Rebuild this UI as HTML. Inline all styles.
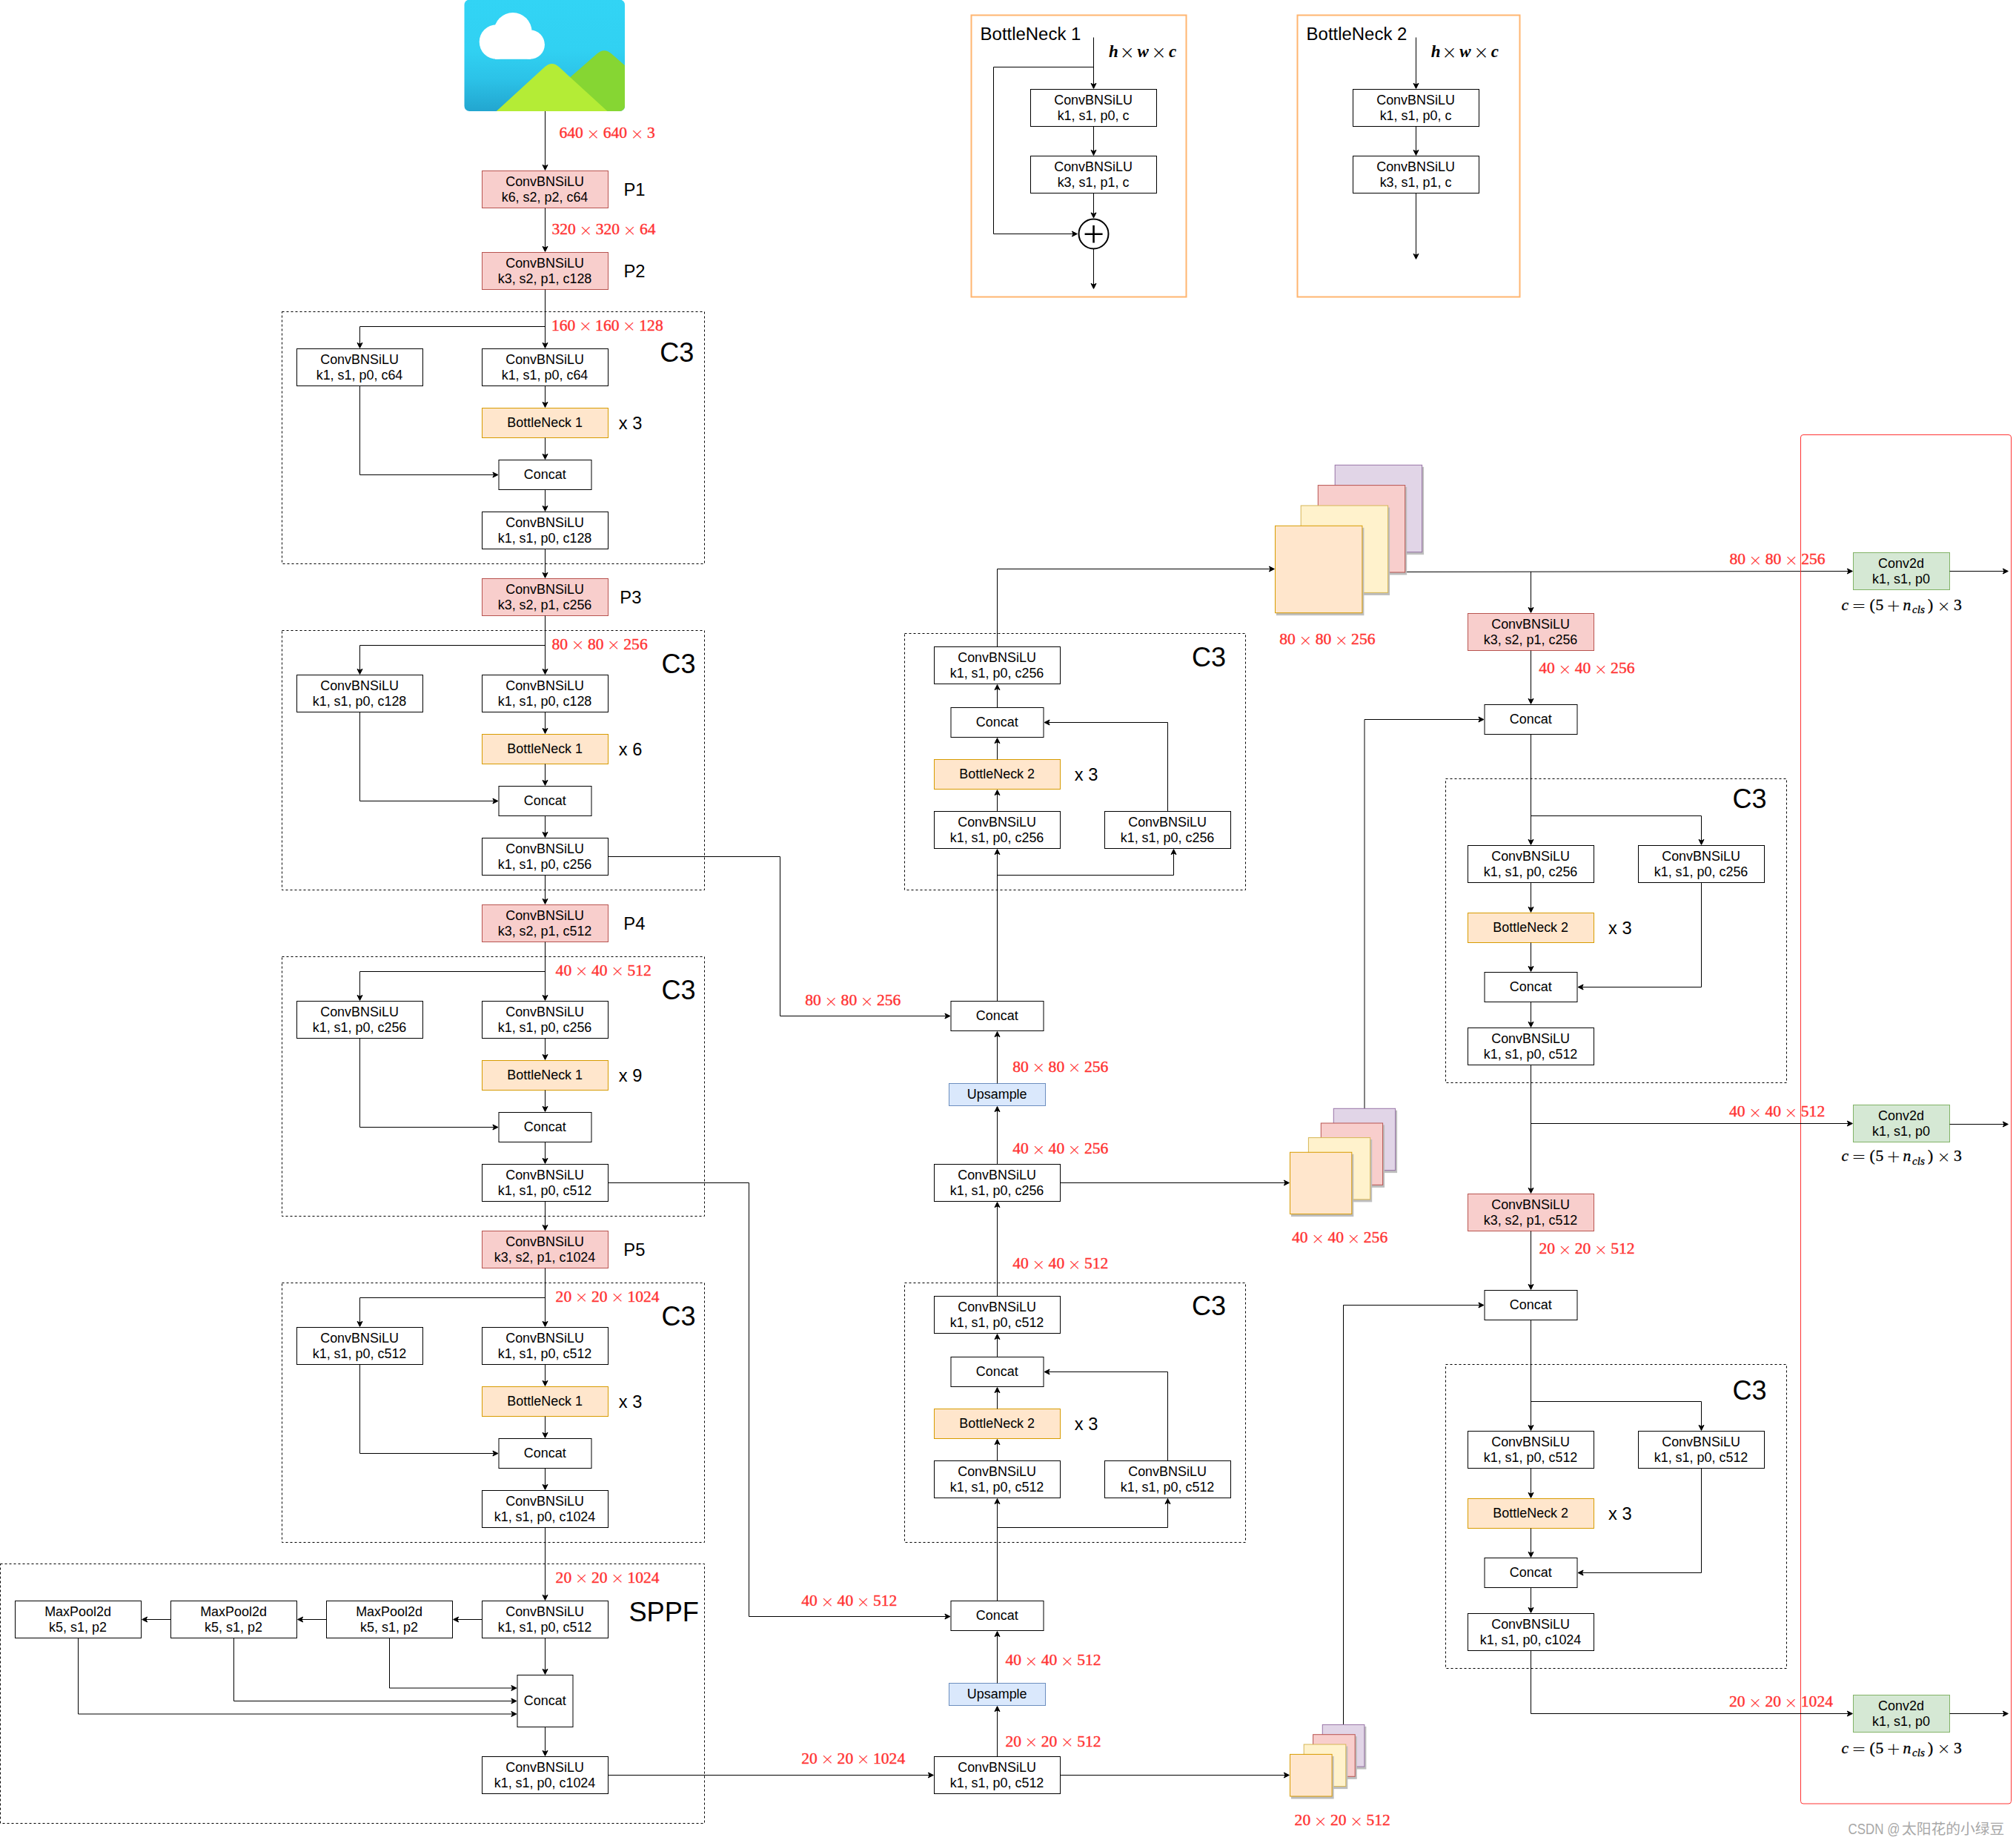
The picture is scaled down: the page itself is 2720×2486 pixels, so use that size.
<!DOCTYPE html>
<html lang="en"><head><meta charset="utf-8"><title>YOLOv5 architecture</title>
<style>html,body{margin:0;padding:0;background:#fff}svg{display:block;font-family:'Liberation Sans', Arial, Helvetica, sans-serif}</style>
</head><body>
<svg width="2720" height="2486" viewBox="0 0 2720 2486">
<defs><linearGradient id="sky" x1="0" y1="0" x2="0" y2="1"><stop offset="0" stop-color="#32d4f5"/><stop offset="0.45" stop-color="#31d1f2"/><stop offset="0.7" stop-color="#2cc3e8"/><stop offset="1" stop-color="#22a5cf"/></linearGradient><clipPath id="imgclip"><rect x="626.5" y="-0.5" width="216.5" height="150.5" rx="7" ry="7"/></clipPath></defs>
<rect x="0" y="0" width="2720" height="2486" fill="#fff"/>
<g clip-path="url(#imgclip)">
<rect x="626" y="-1" width="218" height="152" fill="url(#sky)"/>
<g fill="#fff"><circle cx="692" cy="42.5" r="25.5"/><circle cx="670" cy="56.5" r="23.3"/><circle cx="715.3" cy="60.2" r="19.6"/><rect x="668" y="60" width="48" height="19.8"/></g>
<path d="M750 121L805.5 72.5Q815.3 64 825 72.5L850 94.5V152H750Z" fill="#86d633"/>
<path d="M668.1 151.5L735 90.3Q744.6 81.5 754.2 90.3L821.1 151.5Z" fill="#b4ec36"/>
</g>
<path d="M735.5 229.38L732 222.38L735.5 224.13L739 222.38Z" fill="#000" stroke="#000" stroke-width="1" stroke-miterlimit="10"/>
<path d="M735.5 150L735.5 224.13" fill="none" stroke="#000" stroke-width="1" stroke-miterlimit="10"/>
<text font-family='"Liberation Serif", "DejaVu Serif", serif' font-size="21.6" fill="#ff3333" stroke="#ff3333" stroke-width="0.4" xml:space="preserve"><tspan x="754.5" y="186.2">640 </tspan><tspan x="791.25" y="187.8" font-family='"DejaVu Sans", sans-serif' font-weight="200" stroke="none" font-size="21.8">× </tspan><tspan x="813.7" y="186.2">640 </tspan><tspan x="850.45" y="187.8" font-family='"DejaVu Sans", sans-serif' font-weight="200" stroke="none" font-size="21.8">× </tspan><tspan x="872.9" y="186.2">3 </tspan></text>
<rect x="650.5" y="230.5" width="170" height="50" fill="#f8cecc" stroke="#b85450" stroke-width="1" />
<text transform="translate(735,250.9) scale(1.0,1)" font-size="17.95" text-anchor="middle" fill="#000" >ConvBNSiLU</text>
<text transform="translate(735,271.7) scale(1.0,1)" font-size="17.95" text-anchor="middle" fill="#000" >k6, s2, p2, c64</text>
<text transform="translate(841.5,263.8) scale(1.0,1)" font-size="23.8" text-anchor="start" fill="#000" >P1</text>
<path d="M735.5 339.38L732 332.38L735.5 334.13L739 332.38Z" fill="#000" stroke="#000" stroke-width="1" stroke-miterlimit="10"/>
<path d="M735.5 280.5L735.5 334.13" fill="none" stroke="#000" stroke-width="1" stroke-miterlimit="10"/>
<text font-family='"Liberation Serif", "DejaVu Serif", serif' font-size="21.6" fill="#ff3333" stroke="#ff3333" stroke-width="0.4" xml:space="preserve"><tspan x="744.5" y="316.2">320 </tspan><tspan x="781.25" y="317.8" font-family='"DejaVu Sans", sans-serif' font-weight="200" stroke="none" font-size="21.8">× </tspan><tspan x="803.7" y="316.2">320 </tspan><tspan x="840.45" y="317.8" font-family='"DejaVu Sans", sans-serif' font-weight="200" stroke="none" font-size="21.8">× </tspan><tspan x="862.9" y="316.2">64 </tspan></text>
<rect x="650.5" y="340.5" width="170" height="50" fill="#f8cecc" stroke="#b85450" stroke-width="1" />
<text transform="translate(735,360.9) scale(1.0,1)" font-size="17.95" text-anchor="middle" fill="#000" >ConvBNSiLU</text>
<text transform="translate(735,381.7) scale(1.0,1)" font-size="17.95" text-anchor="middle" fill="#000" >k3, s2, p1, c128</text>
<text transform="translate(841.5,373.8) scale(1.0,1)" font-size="23.8" text-anchor="start" fill="#000" >P2</text>
<rect x="380.5" y="420.5" width="570" height="340" fill="none" stroke="#000" stroke-width="1" stroke-dasharray="3 3"/>
<path d="M735.5 469.38L732 462.38L735.5 464.13L739 462.38Z" fill="#000" stroke="#000" stroke-width="1" stroke-miterlimit="10"/>
<path d="M735.5 390.5L735.5 464.13" fill="none" stroke="#000" stroke-width="1" stroke-miterlimit="10"/>
<path d="M485.5 469.38L482 462.38L485.5 464.13L489 462.38Z" fill="#000" stroke="#000" stroke-width="1" stroke-miterlimit="10"/>
<path d="M735.5 440.5L485.5 440.5L485.5 464.13" fill="none" stroke="#000" stroke-width="1" stroke-miterlimit="10"/>
<text font-family='"Liberation Serif", "DejaVu Serif", serif' font-size="21.6" fill="#ff3333" stroke="#ff3333" stroke-width="0.4" xml:space="preserve"><tspan x="743.9" y="445.8">160 </tspan><tspan x="780.65" y="447.4" font-family='"DejaVu Sans", sans-serif' font-weight="200" stroke="none" font-size="21.8">× </tspan><tspan x="803.1" y="445.8">160 </tspan><tspan x="839.85" y="447.4" font-family='"DejaVu Sans", sans-serif' font-weight="200" stroke="none" font-size="21.8">× </tspan><tspan x="862.3" y="445.8">128 </tspan></text>
<text transform="translate(890.2,487.7) scale(0.99,1)" font-size="36.4" text-anchor="start" fill="#000" >C3</text>
<rect x="400.5" y="470.5" width="170" height="50" fill="#fff" stroke="#000" stroke-width="1" />
<text transform="translate(485,490.9) scale(1.0,1)" font-size="17.95" text-anchor="middle" fill="#000" >ConvBNSiLU</text>
<text transform="translate(485,511.7) scale(1.0,1)" font-size="17.95" text-anchor="middle" fill="#000" >k1, s1, p0, c64</text>
<rect x="650.5" y="470.5" width="170" height="50" fill="#fff" stroke="#000" stroke-width="1" />
<text transform="translate(735,490.9) scale(1.0,1)" font-size="17.95" text-anchor="middle" fill="#000" >ConvBNSiLU</text>
<text transform="translate(735,511.7) scale(1.0,1)" font-size="17.95" text-anchor="middle" fill="#000" >k1, s1, p0, c64</text>
<path d="M735.5 549.38L732 542.38L735.5 544.13L739 542.38Z" fill="#000" stroke="#000" stroke-width="1" stroke-miterlimit="10"/>
<path d="M735.5 520.5L735.5 544.13" fill="none" stroke="#000" stroke-width="1" stroke-miterlimit="10"/>
<rect x="650.5" y="550.5" width="170" height="40" fill="#ffe6cc" stroke="#d79b00" stroke-width="1" />
<text transform="translate(735.2,576.3) scale(1.0,1)" font-size="17.95" text-anchor="middle" fill="#000" >BottleNeck 1</text>
<text transform="translate(834.8,578.6) scale(0.965,1)" font-size="24.5" text-anchor="start" fill="#000" >x 3</text>
<path d="M735.5 619.38L732 612.38L735.5 614.13L739 612.38Z" fill="#000" stroke="#000" stroke-width="1" stroke-miterlimit="10"/>
<path d="M735.5 590.5L735.5 614.13" fill="none" stroke="#000" stroke-width="1" stroke-miterlimit="10"/>
<rect x="673" y="620.5" width="125" height="40" fill="#fff" stroke="#000" stroke-width="1" />
<text transform="translate(735.2,646.3) scale(1.0,1)" font-size="17.95" text-anchor="middle" fill="#000" >Concat</text>
<path d="M671.88 640.5L664.88 644L666.63 640.5L664.88 637Z" fill="#000" stroke="#000" stroke-width="1" stroke-miterlimit="10"/>
<path d="M485.5 520.5L485.5 640.5L666.63 640.5" fill="none" stroke="#000" stroke-width="1" stroke-miterlimit="10"/>
<path d="M735.5 689.38L732 682.38L735.5 684.13L739 682.38Z" fill="#000" stroke="#000" stroke-width="1" stroke-miterlimit="10"/>
<path d="M735.5 660.5L735.5 684.13" fill="none" stroke="#000" stroke-width="1" stroke-miterlimit="10"/>
<rect x="650.5" y="690.5" width="170" height="50" fill="#fff" stroke="#000" stroke-width="1" />
<text transform="translate(735,710.9) scale(1.0,1)" font-size="17.95" text-anchor="middle" fill="#000" >ConvBNSiLU</text>
<text transform="translate(735,731.7) scale(1.0,1)" font-size="17.95" text-anchor="middle" fill="#000" >k1, s1, p0, c128</text>
<path d="M735.5 779.38L732 772.38L735.5 774.13L739 772.38Z" fill="#000" stroke="#000" stroke-width="1" stroke-miterlimit="10"/>
<path d="M735.5 740.5L735.5 774.13" fill="none" stroke="#000" stroke-width="1" stroke-miterlimit="10"/>
<rect x="650.5" y="780.5" width="170" height="50" fill="#f8cecc" stroke="#b85450" stroke-width="1" />
<text transform="translate(735,800.9) scale(1.0,1)" font-size="17.95" text-anchor="middle" fill="#000" >ConvBNSiLU</text>
<text transform="translate(735,821.7) scale(1.0,1)" font-size="17.95" text-anchor="middle" fill="#000" >k3, s2, p1, c256</text>
<text transform="translate(836.3,813.8) scale(1.0,1)" font-size="23.8" text-anchor="start" fill="#000" >P3</text>
<rect x="380.5" y="850.5" width="570" height="350" fill="none" stroke="#000" stroke-width="1" stroke-dasharray="3 3"/>
<path d="M735.5 909.38L732 902.38L735.5 904.13L739 902.38Z" fill="#000" stroke="#000" stroke-width="1" stroke-miterlimit="10"/>
<path d="M735.5 830.5L735.5 904.13" fill="none" stroke="#000" stroke-width="1" stroke-miterlimit="10"/>
<path d="M485.5 909.38L482 902.38L485.5 904.13L489 902.38Z" fill="#000" stroke="#000" stroke-width="1" stroke-miterlimit="10"/>
<path d="M735.5 870.5L485.5 870.5L485.5 904.13" fill="none" stroke="#000" stroke-width="1" stroke-miterlimit="10"/>
<text font-family='"Liberation Serif", "DejaVu Serif", serif' font-size="21.6" fill="#ff3333" stroke="#ff3333" stroke-width="0.4" xml:space="preserve"><tspan x="744.5" y="875.8">80 </tspan><tspan x="770.45" y="877.4" font-family='"DejaVu Sans", sans-serif' font-weight="200" stroke="none" font-size="21.8">× </tspan><tspan x="792.9" y="875.8">80 </tspan><tspan x="818.85" y="877.4" font-family='"DejaVu Sans", sans-serif' font-weight="200" stroke="none" font-size="21.8">× </tspan><tspan x="841.3" y="875.8">256 </tspan></text>
<text transform="translate(892.5,907.7) scale(0.99,1)" font-size="36.4" text-anchor="start" fill="#000" >C3</text>
<rect x="400.5" y="910.5" width="170" height="50" fill="#fff" stroke="#000" stroke-width="1" />
<text transform="translate(485,930.9) scale(1.0,1)" font-size="17.95" text-anchor="middle" fill="#000" >ConvBNSiLU</text>
<text transform="translate(485,951.7) scale(1.0,1)" font-size="17.95" text-anchor="middle" fill="#000" >k1, s1, p0, c128</text>
<rect x="650.5" y="910.5" width="170" height="50" fill="#fff" stroke="#000" stroke-width="1" />
<text transform="translate(735,930.9) scale(1.0,1)" font-size="17.95" text-anchor="middle" fill="#000" >ConvBNSiLU</text>
<text transform="translate(735,951.7) scale(1.0,1)" font-size="17.95" text-anchor="middle" fill="#000" >k1, s1, p0, c128</text>
<path d="M735.5 989.38L732 982.38L735.5 984.13L739 982.38Z" fill="#000" stroke="#000" stroke-width="1" stroke-miterlimit="10"/>
<path d="M735.5 960.5L735.5 984.13" fill="none" stroke="#000" stroke-width="1" stroke-miterlimit="10"/>
<rect x="650.5" y="990.5" width="170" height="40" fill="#ffe6cc" stroke="#d79b00" stroke-width="1" />
<text transform="translate(735.2,1016.3) scale(1.0,1)" font-size="17.95" text-anchor="middle" fill="#000" >BottleNeck 1</text>
<text transform="translate(834.8,1018.6) scale(0.965,1)" font-size="24.5" text-anchor="start" fill="#000" >x 6</text>
<path d="M735.5 1059.38L732 1052.38L735.5 1054.13L739 1052.38Z" fill="#000" stroke="#000" stroke-width="1" stroke-miterlimit="10"/>
<path d="M735.5 1030.5L735.5 1054.13" fill="none" stroke="#000" stroke-width="1" stroke-miterlimit="10"/>
<rect x="673" y="1060.5" width="125" height="40" fill="#fff" stroke="#000" stroke-width="1" />
<text transform="translate(735.2,1086.3) scale(1.0,1)" font-size="17.95" text-anchor="middle" fill="#000" >Concat</text>
<path d="M671.88 1080.5L664.88 1084L666.63 1080.5L664.88 1077Z" fill="#000" stroke="#000" stroke-width="1" stroke-miterlimit="10"/>
<path d="M485.5 960.5L485.5 1080.5L666.63 1080.5" fill="none" stroke="#000" stroke-width="1" stroke-miterlimit="10"/>
<path d="M735.5 1129.38L732 1122.38L735.5 1124.13L739 1122.38Z" fill="#000" stroke="#000" stroke-width="1" stroke-miterlimit="10"/>
<path d="M735.5 1100.5L735.5 1124.13" fill="none" stroke="#000" stroke-width="1" stroke-miterlimit="10"/>
<rect x="650.5" y="1130.5" width="170" height="50" fill="#fff" stroke="#000" stroke-width="1" />
<text transform="translate(735,1150.9) scale(1.0,1)" font-size="17.95" text-anchor="middle" fill="#000" >ConvBNSiLU</text>
<text transform="translate(735,1171.7) scale(1.0,1)" font-size="17.95" text-anchor="middle" fill="#000" >k1, s1, p0, c256</text>
<path d="M735.5 1219.38L732 1212.38L735.5 1214.13L739 1212.38Z" fill="#000" stroke="#000" stroke-width="1" stroke-miterlimit="10"/>
<path d="M735.5 1180.5L735.5 1214.13" fill="none" stroke="#000" stroke-width="1" stroke-miterlimit="10"/>
<rect x="650.5" y="1220.5" width="170" height="50" fill="#f8cecc" stroke="#b85450" stroke-width="1" />
<text transform="translate(735,1240.9) scale(1.0,1)" font-size="17.95" text-anchor="middle" fill="#000" >ConvBNSiLU</text>
<text transform="translate(735,1261.7) scale(1.0,1)" font-size="17.95" text-anchor="middle" fill="#000" >k3, s2, p1, c512</text>
<text transform="translate(841.3,1253.8) scale(1.0,1)" font-size="23.8" text-anchor="start" fill="#000" >P4</text>
<rect x="380.5" y="1290.5" width="570" height="350" fill="none" stroke="#000" stroke-width="1" stroke-dasharray="3 3"/>
<path d="M735.5 1349.38L732 1342.38L735.5 1344.13L739 1342.38Z" fill="#000" stroke="#000" stroke-width="1" stroke-miterlimit="10"/>
<path d="M735.5 1270.5L735.5 1344.13" fill="none" stroke="#000" stroke-width="1" stroke-miterlimit="10"/>
<path d="M485.5 1349.38L482 1342.38L485.5 1344.13L489 1342.38Z" fill="#000" stroke="#000" stroke-width="1" stroke-miterlimit="10"/>
<path d="M735.5 1310.5L485.5 1310.5L485.5 1344.13" fill="none" stroke="#000" stroke-width="1" stroke-miterlimit="10"/>
<text font-family='"Liberation Serif", "DejaVu Serif", serif' font-size="21.6" fill="#ff3333" stroke="#ff3333" stroke-width="0.4" xml:space="preserve"><tspan x="749.6" y="1315.8">40 </tspan><tspan x="775.55" y="1317.4" font-family='"DejaVu Sans", sans-serif' font-weight="200" stroke="none" font-size="21.8">× </tspan><tspan x="798" y="1315.8">40 </tspan><tspan x="823.95" y="1317.4" font-family='"DejaVu Sans", sans-serif' font-weight="200" stroke="none" font-size="21.8">× </tspan><tspan x="846.4" y="1315.8">512 </tspan></text>
<text transform="translate(892.5,1347.7) scale(0.99,1)" font-size="36.4" text-anchor="start" fill="#000" >C3</text>
<rect x="400.5" y="1350.5" width="170" height="50" fill="#fff" stroke="#000" stroke-width="1" />
<text transform="translate(485,1370.9) scale(1.0,1)" font-size="17.95" text-anchor="middle" fill="#000" >ConvBNSiLU</text>
<text transform="translate(485,1391.7) scale(1.0,1)" font-size="17.95" text-anchor="middle" fill="#000" >k1, s1, p0, c256</text>
<rect x="650.5" y="1350.5" width="170" height="50" fill="#fff" stroke="#000" stroke-width="1" />
<text transform="translate(735,1370.9) scale(1.0,1)" font-size="17.95" text-anchor="middle" fill="#000" >ConvBNSiLU</text>
<text transform="translate(735,1391.7) scale(1.0,1)" font-size="17.95" text-anchor="middle" fill="#000" >k1, s1, p0, c256</text>
<path d="M735.5 1429.38L732 1422.38L735.5 1424.13L739 1422.38Z" fill="#000" stroke="#000" stroke-width="1" stroke-miterlimit="10"/>
<path d="M735.5 1400.5L735.5 1424.13" fill="none" stroke="#000" stroke-width="1" stroke-miterlimit="10"/>
<rect x="650.5" y="1430.5" width="170" height="40" fill="#ffe6cc" stroke="#d79b00" stroke-width="1" />
<text transform="translate(735.2,1456.3) scale(1.0,1)" font-size="17.95" text-anchor="middle" fill="#000" >BottleNeck 1</text>
<text transform="translate(834.8,1458.6) scale(0.965,1)" font-size="24.5" text-anchor="start" fill="#000" >x 9</text>
<path d="M735.5 1499.38L732 1492.38L735.5 1494.13L739 1492.38Z" fill="#000" stroke="#000" stroke-width="1" stroke-miterlimit="10"/>
<path d="M735.5 1470.5L735.5 1494.13" fill="none" stroke="#000" stroke-width="1" stroke-miterlimit="10"/>
<rect x="673" y="1500.5" width="125" height="40" fill="#fff" stroke="#000" stroke-width="1" />
<text transform="translate(735.2,1526.3) scale(1.0,1)" font-size="17.95" text-anchor="middle" fill="#000" >Concat</text>
<path d="M671.88 1520.5L664.88 1524L666.63 1520.5L664.88 1517Z" fill="#000" stroke="#000" stroke-width="1" stroke-miterlimit="10"/>
<path d="M485.5 1400.5L485.5 1520.5L666.63 1520.5" fill="none" stroke="#000" stroke-width="1" stroke-miterlimit="10"/>
<path d="M735.5 1569.38L732 1562.38L735.5 1564.13L739 1562.38Z" fill="#000" stroke="#000" stroke-width="1" stroke-miterlimit="10"/>
<path d="M735.5 1540.5L735.5 1564.13" fill="none" stroke="#000" stroke-width="1" stroke-miterlimit="10"/>
<rect x="650.5" y="1570.5" width="170" height="50" fill="#fff" stroke="#000" stroke-width="1" />
<text transform="translate(735,1590.9) scale(1.0,1)" font-size="17.95" text-anchor="middle" fill="#000" >ConvBNSiLU</text>
<text transform="translate(735,1611.7) scale(1.0,1)" font-size="17.95" text-anchor="middle" fill="#000" >k1, s1, p0, c512</text>
<path d="M735.5 1659.38L732 1652.38L735.5 1654.13L739 1652.38Z" fill="#000" stroke="#000" stroke-width="1" stroke-miterlimit="10"/>
<path d="M735.5 1620.5L735.5 1654.13" fill="none" stroke="#000" stroke-width="1" stroke-miterlimit="10"/>
<rect x="650.5" y="1660.5" width="170" height="50" fill="#f8cecc" stroke="#b85450" stroke-width="1" />
<text transform="translate(735,1680.9) scale(1.0,1)" font-size="17.95" text-anchor="middle" fill="#000" >ConvBNSiLU</text>
<text transform="translate(735,1701.7) scale(1.0,1)" font-size="17.95" text-anchor="middle" fill="#000" >k3, s2, p1, c1024</text>
<text transform="translate(841.3,1693.8) scale(1.0,1)" font-size="23.8" text-anchor="start" fill="#000" >P5</text>
<rect x="380.5" y="1730.5" width="570" height="350" fill="none" stroke="#000" stroke-width="1" stroke-dasharray="3 3"/>
<path d="M735.5 1789.38L732 1782.38L735.5 1784.13L739 1782.38Z" fill="#000" stroke="#000" stroke-width="1" stroke-miterlimit="10"/>
<path d="M735.5 1710.5L735.5 1784.13" fill="none" stroke="#000" stroke-width="1" stroke-miterlimit="10"/>
<path d="M485.5 1789.38L482 1782.38L485.5 1784.13L489 1782.38Z" fill="#000" stroke="#000" stroke-width="1" stroke-miterlimit="10"/>
<path d="M735.5 1750.5L485.5 1750.5L485.5 1784.13" fill="none" stroke="#000" stroke-width="1" stroke-miterlimit="10"/>
<text font-family='"Liberation Serif", "DejaVu Serif", serif' font-size="21.6" fill="#ff3333" stroke="#ff3333" stroke-width="0.4" xml:space="preserve"><tspan x="749.6" y="1755.8">20 </tspan><tspan x="775.55" y="1757.4" font-family='"DejaVu Sans", sans-serif' font-weight="200" stroke="none" font-size="21.8">× </tspan><tspan x="798" y="1755.8">20 </tspan><tspan x="823.95" y="1757.4" font-family='"DejaVu Sans", sans-serif' font-weight="200" stroke="none" font-size="21.8">× </tspan><tspan x="846.4" y="1755.8">1024 </tspan></text>
<text transform="translate(892.5,1787.7) scale(0.99,1)" font-size="36.4" text-anchor="start" fill="#000" >C3</text>
<rect x="400.5" y="1790.5" width="170" height="50" fill="#fff" stroke="#000" stroke-width="1" />
<text transform="translate(485,1810.9) scale(1.0,1)" font-size="17.95" text-anchor="middle" fill="#000" >ConvBNSiLU</text>
<text transform="translate(485,1831.7) scale(1.0,1)" font-size="17.95" text-anchor="middle" fill="#000" >k1, s1, p0, c512</text>
<rect x="650.5" y="1790.5" width="170" height="50" fill="#fff" stroke="#000" stroke-width="1" />
<text transform="translate(735,1810.9) scale(1.0,1)" font-size="17.95" text-anchor="middle" fill="#000" >ConvBNSiLU</text>
<text transform="translate(735,1831.7) scale(1.0,1)" font-size="17.95" text-anchor="middle" fill="#000" >k1, s1, p0, c512</text>
<path d="M735.5 1869.38L732 1862.38L735.5 1864.13L739 1862.38Z" fill="#000" stroke="#000" stroke-width="1" stroke-miterlimit="10"/>
<path d="M735.5 1840.5L735.5 1864.13" fill="none" stroke="#000" stroke-width="1" stroke-miterlimit="10"/>
<rect x="650.5" y="1870.5" width="170" height="40" fill="#ffe6cc" stroke="#d79b00" stroke-width="1" />
<text transform="translate(735.2,1896.3) scale(1.0,1)" font-size="17.95" text-anchor="middle" fill="#000" >BottleNeck 1</text>
<text transform="translate(834.8,1898.6) scale(0.965,1)" font-size="24.5" text-anchor="start" fill="#000" >x 3</text>
<path d="M735.5 1939.38L732 1932.38L735.5 1934.13L739 1932.38Z" fill="#000" stroke="#000" stroke-width="1" stroke-miterlimit="10"/>
<path d="M735.5 1910.5L735.5 1934.13" fill="none" stroke="#000" stroke-width="1" stroke-miterlimit="10"/>
<rect x="673" y="1940.5" width="125" height="40" fill="#fff" stroke="#000" stroke-width="1" />
<text transform="translate(735.2,1966.3) scale(1.0,1)" font-size="17.95" text-anchor="middle" fill="#000" >Concat</text>
<path d="M671.88 1960.5L664.88 1964L666.63 1960.5L664.88 1957Z" fill="#000" stroke="#000" stroke-width="1" stroke-miterlimit="10"/>
<path d="M485.5 1840.5L485.5 1960.5L666.63 1960.5" fill="none" stroke="#000" stroke-width="1" stroke-miterlimit="10"/>
<path d="M735.5 2009.38L732 2002.38L735.5 2004.13L739 2002.38Z" fill="#000" stroke="#000" stroke-width="1" stroke-miterlimit="10"/>
<path d="M735.5 1980.5L735.5 2004.13" fill="none" stroke="#000" stroke-width="1" stroke-miterlimit="10"/>
<rect x="650.5" y="2010.5" width="170" height="50" fill="#fff" stroke="#000" stroke-width="1" />
<text transform="translate(735,2030.9) scale(1.0,1)" font-size="17.95" text-anchor="middle" fill="#000" >ConvBNSiLU</text>
<text transform="translate(735,2051.7) scale(1.0,1)" font-size="17.95" text-anchor="middle" fill="#000" >k1, s1, p0, c1024</text>
<path d="M1281.88 1370.5L1274.88 1374L1276.63 1370.5L1274.88 1367Z" fill="#000" stroke="#000" stroke-width="1" stroke-miterlimit="10"/>
<path d="M820.5 1155.5L1052.5 1155.5L1052.5 1370.5L1276.63 1370.5" fill="none" stroke="#000" stroke-width="1" stroke-miterlimit="10"/>
<path d="M1281.88 2180.5L1274.88 2184L1276.63 2180.5L1274.88 2177Z" fill="#000" stroke="#000" stroke-width="1" stroke-miterlimit="10"/>
<path d="M820.5 1595.5L1010.5 1595.5L1010.5 2180.5L1276.63 2180.5" fill="none" stroke="#000" stroke-width="1" stroke-miterlimit="10"/>
<rect x="0.5" y="2109.5" width="950" height="350" fill="none" stroke="#000" stroke-width="1" stroke-dasharray="3 3"/>
<path d="M735.5 2158.38L732 2151.38L735.5 2153.13L739 2151.38Z" fill="#000" stroke="#000" stroke-width="1" stroke-miterlimit="10"/>
<path d="M735.5 2060.5L735.5 2153.13" fill="none" stroke="#000" stroke-width="1" stroke-miterlimit="10"/>
<text font-family='"Liberation Serif", "DejaVu Serif", serif' font-size="21.6" fill="#ff3333" stroke="#ff3333" stroke-width="0.4" xml:space="preserve"><tspan x="749.6" y="2134.6">20 </tspan><tspan x="775.55" y="2136.2" font-family='"DejaVu Sans", sans-serif' font-weight="200" stroke="none" font-size="21.8">× </tspan><tspan x="798" y="2134.6">20 </tspan><tspan x="823.95" y="2136.2" font-family='"DejaVu Sans", sans-serif' font-weight="200" stroke="none" font-size="21.8">× </tspan><tspan x="846.4" y="2134.6">1024 </tspan></text>
<text transform="translate(848.4,2187.2) scale(0.987,1)" font-size="36.7" text-anchor="start" fill="#000" >SPPF</text>
<rect x="650.5" y="2159.5" width="170" height="50" fill="#fff" stroke="#000" stroke-width="1" />
<text transform="translate(735,2179.9) scale(1.0,1)" font-size="17.95" text-anchor="middle" fill="#000" >ConvBNSiLU</text>
<text transform="translate(735,2200.7) scale(1.0,1)" font-size="17.95" text-anchor="middle" fill="#000" >k1, s1, p0, c512</text>
<rect x="440.5" y="2159.5" width="170" height="50" fill="#fff" stroke="#000" stroke-width="1" />
<text transform="translate(525,2179.9) scale(1.0,1)" font-size="17.95" text-anchor="middle" fill="#000" >MaxPool2d</text>
<text transform="translate(525,2200.7) scale(1.0,1)" font-size="17.95" text-anchor="middle" fill="#000" >k5, s1, p2</text>
<path d="M611.62 2184.5L618.62 2181L616.87 2184.5L618.62 2188Z" fill="#000" stroke="#000" stroke-width="1" stroke-miterlimit="10"/>
<path d="M650.5 2184.5L616.87 2184.5" fill="none" stroke="#000" stroke-width="1" stroke-miterlimit="10"/>
<rect x="230.5" y="2159.5" width="170" height="50" fill="#fff" stroke="#000" stroke-width="1" />
<text transform="translate(315,2179.9) scale(1.0,1)" font-size="17.95" text-anchor="middle" fill="#000" >MaxPool2d</text>
<text transform="translate(315,2200.7) scale(1.0,1)" font-size="17.95" text-anchor="middle" fill="#000" >k5, s1, p2</text>
<path d="M401.62 2184.5L408.62 2181L406.87 2184.5L408.62 2188Z" fill="#000" stroke="#000" stroke-width="1" stroke-miterlimit="10"/>
<path d="M440.5 2184.5L406.87 2184.5" fill="none" stroke="#000" stroke-width="1" stroke-miterlimit="10"/>
<rect x="20.5" y="2159.5" width="170" height="50" fill="#fff" stroke="#000" stroke-width="1" />
<text transform="translate(105,2179.9) scale(1.0,1)" font-size="17.95" text-anchor="middle" fill="#000" >MaxPool2d</text>
<text transform="translate(105,2200.7) scale(1.0,1)" font-size="17.95" text-anchor="middle" fill="#000" >k5, s1, p2</text>
<path d="M191.62 2184.5L198.62 2181L196.87 2184.5L198.62 2188Z" fill="#000" stroke="#000" stroke-width="1" stroke-miterlimit="10"/>
<path d="M230.5 2184.5L196.87 2184.5" fill="none" stroke="#000" stroke-width="1" stroke-miterlimit="10"/>
<path d="M696.88 2277L689.88 2280.5L691.63 2277L689.88 2273.5Z" fill="#000" stroke="#000" stroke-width="1" stroke-miterlimit="10"/>
<path d="M525.5 2209.5L525.5 2277L691.63 2277" fill="none" stroke="#000" stroke-width="1" stroke-miterlimit="10"/>
<path d="M696.88 2294.5L689.88 2298L691.63 2294.5L689.88 2291Z" fill="#000" stroke="#000" stroke-width="1" stroke-miterlimit="10"/>
<path d="M315.5 2209.5L315.5 2294.5L691.63 2294.5" fill="none" stroke="#000" stroke-width="1" stroke-miterlimit="10"/>
<path d="M696.88 2312L689.88 2315.5L691.63 2312L689.88 2308.5Z" fill="#000" stroke="#000" stroke-width="1" stroke-miterlimit="10"/>
<path d="M105.5 2209.5L105.5 2312L691.63 2312" fill="none" stroke="#000" stroke-width="1" stroke-miterlimit="10"/>
<path d="M735.5 2258.38L732 2251.38L735.5 2253.13L739 2251.38Z" fill="#000" stroke="#000" stroke-width="1" stroke-miterlimit="10"/>
<path d="M735.5 2209.5L735.5 2253.13" fill="none" stroke="#000" stroke-width="1" stroke-miterlimit="10"/>
<rect x="698" y="2259.5" width="75" height="70" fill="#fff" stroke="#000" stroke-width="1" />
<text transform="translate(735.2,2300.3) scale(1.0,1)" font-size="17.95" text-anchor="middle" fill="#000" >Concat</text>
<path d="M735.5 2368.38L732 2361.38L735.5 2363.13L739 2361.38Z" fill="#000" stroke="#000" stroke-width="1" stroke-miterlimit="10"/>
<path d="M735.5 2329.5L735.5 2363.13" fill="none" stroke="#000" stroke-width="1" stroke-miterlimit="10"/>
<rect x="650.5" y="2369.5" width="170" height="50" fill="#fff" stroke="#000" stroke-width="1" />
<text transform="translate(735,2389.9) scale(1.0,1)" font-size="17.95" text-anchor="middle" fill="#000" >ConvBNSiLU</text>
<text transform="translate(735,2410.7) scale(1.0,1)" font-size="17.95" text-anchor="middle" fill="#000" >k1, s1, p0, c1024</text>
<path d="M1259.38 2394.5L1252.38 2398L1254.13 2394.5L1252.38 2391Z" fill="#000" stroke="#000" stroke-width="1" stroke-miterlimit="10"/>
<path d="M820.5 2394.5L1254.13 2394.5" fill="none" stroke="#000" stroke-width="1" stroke-miterlimit="10"/>
<text font-family='"Liberation Serif", "DejaVu Serif", serif' font-size="21.6" fill="#ff3333" stroke="#ff3333" stroke-width="0.4" xml:space="preserve"><tspan x="1081.2" y="2378.7">20 </tspan><tspan x="1107.15" y="2380.3" font-family='"DejaVu Sans", sans-serif' font-weight="200" stroke="none" font-size="21.8">× </tspan><tspan x="1129.6" y="2378.7">20 </tspan><tspan x="1155.55" y="2380.3" font-family='"DejaVu Sans", sans-serif' font-weight="200" stroke="none" font-size="21.8">× </tspan><tspan x="1178" y="2378.7">1024 </tspan></text>
<text font-family='"Liberation Serif", "DejaVu Serif", serif' font-size="21.6" fill="#ff3333" stroke="#ff3333" stroke-width="0.4" xml:space="preserve"><tspan x="1081.2" y="2166.2">40 </tspan><tspan x="1107.15" y="2167.8" font-family='"DejaVu Sans", sans-serif' font-weight="200" stroke="none" font-size="21.8">× </tspan><tspan x="1129.6" y="2166.2">40 </tspan><tspan x="1155.55" y="2167.8" font-family='"DejaVu Sans", sans-serif' font-weight="200" stroke="none" font-size="21.8">× </tspan><tspan x="1178" y="2166.2">512 </tspan></text>
<text font-family='"Liberation Serif", "DejaVu Serif", serif' font-size="21.6" fill="#ff3333" stroke="#ff3333" stroke-width="0.4" xml:space="preserve"><tspan x="1086.2" y="1356">80 </tspan><tspan x="1112.15" y="1357.6" font-family='"DejaVu Sans", sans-serif' font-weight="200" stroke="none" font-size="21.8">× </tspan><tspan x="1134.6" y="1356">80 </tspan><tspan x="1160.55" y="1357.6" font-family='"DejaVu Sans", sans-serif' font-weight="200" stroke="none" font-size="21.8">× </tspan><tspan x="1183" y="1356">256 </tspan></text>
<rect x="1260.5" y="2369.5" width="170" height="50" fill="#fff" stroke="#000" stroke-width="1" />
<text transform="translate(1345,2389.9) scale(1.0,1)" font-size="17.95" text-anchor="middle" fill="#000" >ConvBNSiLU</text>
<text transform="translate(1345,2410.7) scale(1.0,1)" font-size="17.95" text-anchor="middle" fill="#000" >k1, s1, p0, c512</text>
<path d="M1739.38 2394.5L1732.38 2398L1734.13 2394.5L1732.38 2391Z" fill="#000" stroke="#000" stroke-width="1" stroke-miterlimit="10"/>
<path d="M1430.5 2394.5L1734.13 2394.5" fill="none" stroke="#000" stroke-width="1" stroke-miterlimit="10"/>
<path d="M1345.5 2301.62L1349 2308.62L1345.5 2306.87L1342 2308.62Z" fill="#000" stroke="#000" stroke-width="1" stroke-miterlimit="10"/>
<path d="M1345.5 2369.5L1345.5 2306.87" fill="none" stroke="#000" stroke-width="1" stroke-miterlimit="10"/>
<text font-family='"Liberation Serif", "DejaVu Serif", serif' font-size="21.6" fill="#ff3333" stroke="#ff3333" stroke-width="0.4" xml:space="preserve"><tspan x="1356.4" y="2355.5">20 </tspan><tspan x="1382.35" y="2357.1" font-family='"DejaVu Sans", sans-serif' font-weight="200" stroke="none" font-size="21.8">× </tspan><tspan x="1404.8" y="2355.5">20 </tspan><tspan x="1430.75" y="2357.1" font-family='"DejaVu Sans", sans-serif' font-weight="200" stroke="none" font-size="21.8">× </tspan><tspan x="1453.2" y="2355.5">512 </tspan></text>
<rect x="1280.5" y="2270.5" width="130" height="30" fill="#dae8fc" stroke="#6c8ebf" stroke-width="1" />
<text transform="translate(1345.2,2291.3) scale(1.0,1)" font-size="17.95" text-anchor="middle" fill="#000" >Upsample</text>
<path d="M1345.5 2200.62L1349 2207.62L1345.5 2205.87L1342 2207.62Z" fill="#000" stroke="#000" stroke-width="1" stroke-miterlimit="10"/>
<path d="M1345.5 2270.5L1345.5 2205.87" fill="none" stroke="#000" stroke-width="1" stroke-miterlimit="10"/>
<text font-family='"Liberation Serif", "DejaVu Serif", serif' font-size="21.6" fill="#ff3333" stroke="#ff3333" stroke-width="0.4" xml:space="preserve"><tspan x="1356.4" y="2246.2">40 </tspan><tspan x="1382.35" y="2247.8" font-family='"DejaVu Sans", sans-serif' font-weight="200" stroke="none" font-size="21.8">× </tspan><tspan x="1404.8" y="2246.2">40 </tspan><tspan x="1430.75" y="2247.8" font-family='"DejaVu Sans", sans-serif' font-weight="200" stroke="none" font-size="21.8">× </tspan><tspan x="1453.2" y="2246.2">512 </tspan></text>
<rect x="1283" y="2159.5" width="125" height="40" fill="#fff" stroke="#000" stroke-width="1" />
<text transform="translate(1345.2,2185.3) scale(1.0,1)" font-size="17.95" text-anchor="middle" fill="#000" >Concat</text>
<path d="M1345.5 2021.62L1349 2028.62L1345.5 2026.87L1342 2028.62Z" fill="#000" stroke="#000" stroke-width="1" stroke-miterlimit="10"/>
<path d="M1345.5 2159.5L1345.5 2026.87" fill="none" stroke="#000" stroke-width="1" stroke-miterlimit="10"/>
<rect x="1220.5" y="1730.5" width="460" height="350" fill="none" stroke="#000" stroke-width="1" stroke-dasharray="3 3"/>
<rect x="1260.5" y="1970.5" width="170" height="50" fill="#fff" stroke="#000" stroke-width="1" />
<text transform="translate(1345,1990.9) scale(1.0,1)" font-size="17.95" text-anchor="middle" fill="#000" >ConvBNSiLU</text>
<text transform="translate(1345,2011.7) scale(1.0,1)" font-size="17.95" text-anchor="middle" fill="#000" >k1, s1, p0, c512</text>
<rect x="1490.5" y="1970.5" width="170" height="50" fill="#fff" stroke="#000" stroke-width="1" />
<text transform="translate(1575,1990.9) scale(1.0,1)" font-size="17.95" text-anchor="middle" fill="#000" >ConvBNSiLU</text>
<text transform="translate(1575,2011.7) scale(1.0,1)" font-size="17.95" text-anchor="middle" fill="#000" >k1, s1, p0, c512</text>
<path d="M1575.5 2021.62L1579 2028.62L1575.5 2026.87L1572 2028.62Z" fill="#000" stroke="#000" stroke-width="1" stroke-miterlimit="10"/>
<path d="M1345.5 2060.5L1575.5 2060.5L1575.5 2026.87" fill="none" stroke="#000" stroke-width="1" stroke-miterlimit="10"/>
<path d="M1345.5 1941.62L1349 1948.62L1345.5 1946.87L1342 1948.62Z" fill="#000" stroke="#000" stroke-width="1" stroke-miterlimit="10"/>
<path d="M1345.5 1970.5L1345.5 1946.87" fill="none" stroke="#000" stroke-width="1" stroke-miterlimit="10"/>
<rect x="1260.5" y="1900.5" width="170" height="40" fill="#ffe6cc" stroke="#d79b00" stroke-width="1" />
<text transform="translate(1345.2,1926.3) scale(1.0,1)" font-size="17.95" text-anchor="middle" fill="#000" >BottleNeck 2</text>
<text transform="translate(1449.8,1928.8) scale(0.965,1)" font-size="24.5" text-anchor="start" fill="#000" >x 3</text>
<path d="M1345.5 1871.62L1349 1878.62L1345.5 1876.87L1342 1878.62Z" fill="#000" stroke="#000" stroke-width="1" stroke-miterlimit="10"/>
<path d="M1345.5 1900.5L1345.5 1876.87" fill="none" stroke="#000" stroke-width="1" stroke-miterlimit="10"/>
<rect x="1283" y="1830.5" width="125" height="40" fill="#fff" stroke="#000" stroke-width="1" />
<text transform="translate(1345.2,1856.3) scale(1.0,1)" font-size="17.95" text-anchor="middle" fill="#000" >Concat</text>
<path d="M1409.12 1850.5L1416.12 1847L1414.37 1850.5L1416.12 1854Z" fill="#000" stroke="#000" stroke-width="1" stroke-miterlimit="10"/>
<path d="M1575.5 1970.5L1575.5 1850.5L1414.37 1850.5" fill="none" stroke="#000" stroke-width="1" stroke-miterlimit="10"/>
<path d="M1345.5 1799.62L1349 1806.62L1345.5 1804.87L1342 1806.62Z" fill="#000" stroke="#000" stroke-width="1" stroke-miterlimit="10"/>
<path d="M1345.5 1830.5L1345.5 1804.87" fill="none" stroke="#000" stroke-width="1" stroke-miterlimit="10"/>
<rect x="1260.5" y="1748.5" width="170" height="50" fill="#fff" stroke="#000" stroke-width="1" />
<text transform="translate(1345,1768.9) scale(1.0,1)" font-size="17.95" text-anchor="middle" fill="#000" >ConvBNSiLU</text>
<text transform="translate(1345,1789.7) scale(1.0,1)" font-size="17.95" text-anchor="middle" fill="#000" >k1, s1, p0, c512</text>
<text transform="translate(1607.9,1774) scale(0.99,1)" font-size="36.4" text-anchor="start" fill="#000" >C3</text>
<path d="M1345.5 1621.62L1349 1628.62L1345.5 1626.87L1342 1628.62Z" fill="#000" stroke="#000" stroke-width="1" stroke-miterlimit="10"/>
<path d="M1345.5 1748.5L1345.5 1626.87" fill="none" stroke="#000" stroke-width="1" stroke-miterlimit="10"/>
<text font-family='"Liberation Serif", "DejaVu Serif", serif' font-size="21.6" fill="#ff3333" stroke="#ff3333" stroke-width="0.4" xml:space="preserve"><tspan x="1366.2" y="1711.3">40 </tspan><tspan x="1392.15" y="1712.9" font-family='"DejaVu Sans", sans-serif' font-weight="200" stroke="none" font-size="21.8">× </tspan><tspan x="1414.6" y="1711.3">40 </tspan><tspan x="1440.55" y="1712.9" font-family='"DejaVu Sans", sans-serif' font-weight="200" stroke="none" font-size="21.8">× </tspan><tspan x="1463" y="1711.3">512 </tspan></text>
<rect x="1260.5" y="1570.5" width="170" height="50" fill="#fff" stroke="#000" stroke-width="1" />
<text transform="translate(1345,1590.9) scale(1.0,1)" font-size="17.95" text-anchor="middle" fill="#000" >ConvBNSiLU</text>
<text transform="translate(1345,1611.7) scale(1.0,1)" font-size="17.95" text-anchor="middle" fill="#000" >k1, s1, p0, c256</text>
<path d="M1739.38 1595.5L1732.38 1599L1734.13 1595.5L1732.38 1592Z" fill="#000" stroke="#000" stroke-width="1" stroke-miterlimit="10"/>
<path d="M1430.5 1595.5L1734.13 1595.5" fill="none" stroke="#000" stroke-width="1" stroke-miterlimit="10"/>
<path d="M1345.5 1492.62L1349 1499.62L1345.5 1497.87L1342 1499.62Z" fill="#000" stroke="#000" stroke-width="1" stroke-miterlimit="10"/>
<path d="M1345.5 1570.5L1345.5 1497.87" fill="none" stroke="#000" stroke-width="1" stroke-miterlimit="10"/>
<text font-family='"Liberation Serif", "DejaVu Serif", serif' font-size="21.6" fill="#ff3333" stroke="#ff3333" stroke-width="0.4" xml:space="preserve"><tspan x="1366.2" y="1556">40 </tspan><tspan x="1392.15" y="1557.6" font-family='"DejaVu Sans", sans-serif' font-weight="200" stroke="none" font-size="21.8">× </tspan><tspan x="1414.6" y="1556">40 </tspan><tspan x="1440.55" y="1557.6" font-family='"DejaVu Sans", sans-serif' font-weight="200" stroke="none" font-size="21.8">× </tspan><tspan x="1463" y="1556">256 </tspan></text>
<rect x="1280.5" y="1461.5" width="130" height="30" fill="#dae8fc" stroke="#6c8ebf" stroke-width="1" />
<text transform="translate(1345.2,1482.3) scale(1.0,1)" font-size="17.95" text-anchor="middle" fill="#000" >Upsample</text>
<path d="M1345.5 1391.62L1349 1398.62L1345.5 1396.87L1342 1398.62Z" fill="#000" stroke="#000" stroke-width="1" stroke-miterlimit="10"/>
<path d="M1345.5 1461.5L1345.5 1396.87" fill="none" stroke="#000" stroke-width="1" stroke-miterlimit="10"/>
<text font-family='"Liberation Serif", "DejaVu Serif", serif' font-size="21.6" fill="#ff3333" stroke="#ff3333" stroke-width="0.4" xml:space="preserve"><tspan x="1366.2" y="1445.8">80 </tspan><tspan x="1392.15" y="1447.4" font-family='"DejaVu Sans", sans-serif' font-weight="200" stroke="none" font-size="21.8">× </tspan><tspan x="1414.6" y="1445.8">80 </tspan><tspan x="1440.55" y="1447.4" font-family='"DejaVu Sans", sans-serif' font-weight="200" stroke="none" font-size="21.8">× </tspan><tspan x="1463" y="1445.8">256 </tspan></text>
<rect x="1283" y="1350.5" width="125" height="40" fill="#fff" stroke="#000" stroke-width="1" />
<text transform="translate(1345.2,1376.3) scale(1.0,1)" font-size="17.95" text-anchor="middle" fill="#000" >Concat</text>
<path d="M1345.5 1145.62L1349 1152.62L1345.5 1150.87L1342 1152.62Z" fill="#000" stroke="#000" stroke-width="1" stroke-miterlimit="10"/>
<path d="M1345.5 1350.5L1345.5 1150.87" fill="none" stroke="#000" stroke-width="1" stroke-miterlimit="10"/>
<rect x="1220.5" y="854.5" width="460" height="346" fill="none" stroke="#000" stroke-width="1" stroke-dasharray="3 3"/>
<rect x="1260.5" y="1094.5" width="170" height="50" fill="#fff" stroke="#000" stroke-width="1" />
<text transform="translate(1345,1114.9) scale(1.0,1)" font-size="17.95" text-anchor="middle" fill="#000" >ConvBNSiLU</text>
<text transform="translate(1345,1135.7) scale(1.0,1)" font-size="17.95" text-anchor="middle" fill="#000" >k1, s1, p0, c256</text>
<rect x="1490.5" y="1094.5" width="170" height="50" fill="#fff" stroke="#000" stroke-width="1" />
<text transform="translate(1575,1114.9) scale(1.0,1)" font-size="17.95" text-anchor="middle" fill="#000" >ConvBNSiLU</text>
<text transform="translate(1575,1135.7) scale(1.0,1)" font-size="17.95" text-anchor="middle" fill="#000" >k1, s1, p0, c256</text>
<path d="M1583.5 1145.62L1587 1152.62L1583.5 1150.87L1580 1152.62Z" fill="#000" stroke="#000" stroke-width="1" stroke-miterlimit="10"/>
<path d="M1345.5 1180.5L1583.5 1180.5L1583.5 1150.87" fill="none" stroke="#000" stroke-width="1" stroke-miterlimit="10"/>
<path d="M1345.5 1065.62L1349 1072.62L1345.5 1070.87L1342 1072.62Z" fill="#000" stroke="#000" stroke-width="1" stroke-miterlimit="10"/>
<path d="M1345.5 1094.5L1345.5 1070.87" fill="none" stroke="#000" stroke-width="1" stroke-miterlimit="10"/>
<rect x="1260.5" y="1024.5" width="170" height="40" fill="#ffe6cc" stroke="#d79b00" stroke-width="1" />
<text transform="translate(1345.2,1050.3) scale(1.0,1)" font-size="17.95" text-anchor="middle" fill="#000" >BottleNeck 2</text>
<text transform="translate(1449.8,1052.7) scale(0.965,1)" font-size="24.5" text-anchor="start" fill="#000" >x 3</text>
<path d="M1345.5 995.62L1349 1002.62L1345.5 1000.87L1342 1002.62Z" fill="#000" stroke="#000" stroke-width="1" stroke-miterlimit="10"/>
<path d="M1345.5 1024.5L1345.5 1000.87" fill="none" stroke="#000" stroke-width="1" stroke-miterlimit="10"/>
<rect x="1283" y="954.5" width="125" height="40" fill="#fff" stroke="#000" stroke-width="1" />
<text transform="translate(1345.2,980.3) scale(1.0,1)" font-size="17.95" text-anchor="middle" fill="#000" >Concat</text>
<path d="M1409.12 974.5L1416.12 971L1414.37 974.5L1416.12 978Z" fill="#000" stroke="#000" stroke-width="1" stroke-miterlimit="10"/>
<path d="M1575.5 1094.5L1575.5 974.5L1414.37 974.5" fill="none" stroke="#000" stroke-width="1" stroke-miterlimit="10"/>
<path d="M1345.5 923.62L1349 930.62L1345.5 928.87L1342 930.62Z" fill="#000" stroke="#000" stroke-width="1" stroke-miterlimit="10"/>
<path d="M1345.5 954.5L1345.5 928.87" fill="none" stroke="#000" stroke-width="1" stroke-miterlimit="10"/>
<rect x="1260.5" y="872.5" width="170" height="50" fill="#fff" stroke="#000" stroke-width="1" />
<text transform="translate(1345,892.9) scale(1.0,1)" font-size="17.95" text-anchor="middle" fill="#000" >ConvBNSiLU</text>
<text transform="translate(1345,913.7) scale(1.0,1)" font-size="17.95" text-anchor="middle" fill="#000" >k1, s1, p0, c256</text>
<text transform="translate(1607.9,898.6) scale(0.99,1)" font-size="36.4" text-anchor="start" fill="#000" >C3</text>
<path d="M1719.38 767.5L1712.38 771L1714.13 767.5L1712.38 764Z" fill="#000" stroke="#000" stroke-width="1" stroke-miterlimit="10"/>
<path d="M1345.5 872.5L1345.5 767.5L1714.13 767.5" fill="none" stroke="#000" stroke-width="1" stroke-miterlimit="10"/>
<path d="M2499.38 770.5L2492.39 774.01L2494.13 770.51L2492.38 767.01Z" fill="#000" stroke="#000" stroke-width="1" stroke-miterlimit="10"/>
<path d="M1896 771.5L2494.13 770.51" fill="none" stroke="#000" stroke-width="1" stroke-miterlimit="10"/>
<path d="M2001.88 970.5L1994.88 974L1996.63 970.5L1994.88 967Z" fill="#000" stroke="#000" stroke-width="1" stroke-miterlimit="10"/>
<path d="M1841 1495.5L1841 970.5L1996.63 970.5" fill="none" stroke="#000" stroke-width="1" stroke-miterlimit="10"/>
<path d="M2001.88 1760.5L1994.88 1764L1996.63 1760.5L1994.88 1757Z" fill="#000" stroke="#000" stroke-width="1" stroke-miterlimit="10"/>
<path d="M1812.5 2326.5L1812.5 1760.5L1996.63 1760.5" fill="none" stroke="#000" stroke-width="1" stroke-miterlimit="10"/>
<rect x="1803.2" y="630.3" width="117.4" height="117.4" fill="#bdbdbd" stroke="#bdbdbd" stroke-width="1"/>
<rect x="1801.2" y="627.3" width="117.4" height="117.4" fill="#e1d5e7" stroke="#9673a6" stroke-width="1" />
<rect x="1780.3" y="657.6" width="117.4" height="117.4" fill="#bdbdbd" stroke="#bdbdbd" stroke-width="1"/>
<rect x="1778.3" y="654.6" width="117.4" height="117.4" fill="#f8cecc" stroke="#b85450" stroke-width="1" />
<rect x="1757.2" y="685" width="117.4" height="117.4" fill="#bdbdbd" stroke="#bdbdbd" stroke-width="1"/>
<rect x="1755.2" y="682" width="117.4" height="117.4" fill="#fff2cc" stroke="#d6b656" stroke-width="1" />
<rect x="1722.5" y="712.3" width="117.4" height="117.4" fill="#bdbdbd" stroke="#bdbdbd" stroke-width="1"/>
<rect x="1720.5" y="709.3" width="117.4" height="117.4" fill="#ffe6cc" stroke="#d79b00" stroke-width="1" />
<text font-family='"Liberation Serif", "DejaVu Serif", serif' font-size="21.6" fill="#ff3333" stroke="#ff3333" stroke-width="0.4" xml:space="preserve"><tspan x="1726.3" y="869">80 </tspan><tspan x="1752.25" y="870.6" font-family='"DejaVu Sans", sans-serif' font-weight="200" stroke="none" font-size="21.8">× </tspan><tspan x="1774.7" y="869">80 </tspan><tspan x="1800.65" y="870.6" font-family='"DejaVu Sans", sans-serif' font-weight="200" stroke="none" font-size="21.8">× </tspan><tspan x="1823.1" y="869">256 </tspan></text>
<rect x="1801.3" y="1498.3" width="83.3" height="83.3" fill="#bdbdbd" stroke="#bdbdbd" stroke-width="1"/>
<rect x="1799.3" y="1495.3" width="83.3" height="83.3" fill="#e1d5e7" stroke="#9673a6" stroke-width="1" />
<rect x="1784.3" y="1518" width="83.3" height="83.3" fill="#bdbdbd" stroke="#bdbdbd" stroke-width="1"/>
<rect x="1782.3" y="1515" width="83.3" height="83.3" fill="#f8cecc" stroke="#b85450" stroke-width="1" />
<rect x="1767.4" y="1537.6" width="83.3" height="83.3" fill="#bdbdbd" stroke="#bdbdbd" stroke-width="1"/>
<rect x="1765.4" y="1534.6" width="83.3" height="83.3" fill="#fff2cc" stroke="#d6b656" stroke-width="1" />
<rect x="1742.5" y="1557.3" width="83.3" height="83.3" fill="#bdbdbd" stroke="#bdbdbd" stroke-width="1"/>
<rect x="1740.5" y="1554.3" width="83.3" height="83.3" fill="#ffe6cc" stroke="#d79b00" stroke-width="1" />
<text font-family='"Liberation Serif", "DejaVu Serif", serif' font-size="21.6" fill="#ff3333" stroke="#ff3333" stroke-width="0.4" xml:space="preserve"><tspan x="1743" y="1676.4">40 </tspan><tspan x="1768.95" y="1678" font-family='"DejaVu Sans", sans-serif' font-weight="200" stroke="none" font-size="21.8">× </tspan><tspan x="1791.4" y="1676.4">40 </tspan><tspan x="1817.35" y="1678" font-family='"DejaVu Sans", sans-serif' font-weight="200" stroke="none" font-size="21.8">× </tspan><tspan x="1839.8" y="1676.4">256 </tspan></text>
<rect x="1786.3" y="2329.4" width="56.6" height="56.6" fill="#bdbdbd" stroke="#bdbdbd" stroke-width="1"/>
<rect x="1784.3" y="2326.4" width="56.6" height="56.6" fill="#e1d5e7" stroke="#9673a6" stroke-width="1" />
<rect x="1773.6" y="2342.7" width="56.6" height="56.6" fill="#bdbdbd" stroke="#bdbdbd" stroke-width="1"/>
<rect x="1771.6" y="2339.7" width="56.6" height="56.6" fill="#f8cecc" stroke="#b85450" stroke-width="1" />
<rect x="1761.2" y="2356" width="56.6" height="56.6" fill="#bdbdbd" stroke="#bdbdbd" stroke-width="1"/>
<rect x="1759.2" y="2353" width="56.6" height="56.6" fill="#fff2cc" stroke="#d6b656" stroke-width="1" />
<rect x="1742.5" y="2369.4" width="56.6" height="56.6" fill="#bdbdbd" stroke="#bdbdbd" stroke-width="1"/>
<rect x="1740.5" y="2366.4" width="56.6" height="56.6" fill="#ffe6cc" stroke="#d79b00" stroke-width="1" />
<text font-family='"Liberation Serif", "DejaVu Serif", serif' font-size="21.6" fill="#ff3333" stroke="#ff3333" stroke-width="0.4" xml:space="preserve"><tspan x="1746.6" y="2462.2">20 </tspan><tspan x="1772.55" y="2463.8" font-family='"DejaVu Sans", sans-serif' font-weight="200" stroke="none" font-size="21.8">× </tspan><tspan x="1795" y="2462.2">20 </tspan><tspan x="1820.95" y="2463.8" font-family='"DejaVu Sans", sans-serif' font-weight="200" stroke="none" font-size="21.8">× </tspan><tspan x="1843.4" y="2462.2">512 </tspan></text>
<rect x="2429.5" y="586.5" width="284" height="1846.5" rx="3.5" ry="3.5" fill="none" stroke="#ff3333" stroke-width="1"/>
<text font-family='"Liberation Serif", "DejaVu Serif", serif' font-size="21.6" fill="#ff3333" stroke="#ff3333" stroke-width="0.4" xml:space="preserve"><tspan x="2333.4" y="761">80 </tspan><tspan x="2359.35" y="762.6" font-family='"DejaVu Sans", sans-serif' font-weight="200" stroke="none" font-size="21.8">× </tspan><tspan x="2381.8" y="761">80 </tspan><tspan x="2407.75" y="762.6" font-family='"DejaVu Sans", sans-serif' font-weight="200" stroke="none" font-size="21.8">× </tspan><tspan x="2430.2" y="761">256 </tspan></text>
<path d="M2065.5 826.38L2062 819.38L2065.5 821.13L2069 819.38Z" fill="#000" stroke="#000" stroke-width="1" stroke-miterlimit="10"/>
<path d="M2065.5 771L2065.5 821.13" fill="none" stroke="#000" stroke-width="1" stroke-miterlimit="10"/>
<rect x="1980.5" y="827.5" width="170" height="50" fill="#f8cecc" stroke="#b85450" stroke-width="1" />
<text transform="translate(2065,847.9) scale(1.0,1)" font-size="17.95" text-anchor="middle" fill="#000" >ConvBNSiLU</text>
<text transform="translate(2065,868.7) scale(1.0,1)" font-size="17.95" text-anchor="middle" fill="#000" >k3, s2, p1, c256</text>
<path d="M2065.5 949.38L2062 942.38L2065.5 944.13L2069 942.38Z" fill="#000" stroke="#000" stroke-width="1" stroke-miterlimit="10"/>
<path d="M2065.5 877.5L2065.5 944.13" fill="none" stroke="#000" stroke-width="1" stroke-miterlimit="10"/>
<text font-family='"Liberation Serif", "DejaVu Serif", serif' font-size="21.6" fill="#ff3333" stroke="#ff3333" stroke-width="0.4" xml:space="preserve"><tspan x="2076.3" y="908.3">40 </tspan><tspan x="2102.25" y="909.9" font-family='"DejaVu Sans", sans-serif' font-weight="200" stroke="none" font-size="21.8">× </tspan><tspan x="2124.7" y="908.3">40 </tspan><tspan x="2150.65" y="909.9" font-family='"DejaVu Sans", sans-serif' font-weight="200" stroke="none" font-size="21.8">× </tspan><tspan x="2173.1" y="908.3">256 </tspan></text>
<rect x="2003" y="950.5" width="125" height="40" fill="#fff" stroke="#000" stroke-width="1" />
<text transform="translate(2065.2,976.3) scale(1.0,1)" font-size="17.95" text-anchor="middle" fill="#000" >Concat</text>
<rect x="1950.5" y="1050.5" width="460" height="410" fill="none" stroke="#000" stroke-width="1" stroke-dasharray="3 3"/>
<path d="M2065.5 1139.38L2062 1132.38L2065.5 1134.13L2069 1132.38Z" fill="#000" stroke="#000" stroke-width="1" stroke-miterlimit="10"/>
<path d="M2065.5 990.5L2065.5 1134.13" fill="none" stroke="#000" stroke-width="1" stroke-miterlimit="10"/>
<path d="M2295.5 1139.38L2292 1132.38L2295.5 1134.13L2299 1132.38Z" fill="#000" stroke="#000" stroke-width="1" stroke-miterlimit="10"/>
<path d="M2065.5 1100.5L2295.5 1100.5L2295.5 1134.13" fill="none" stroke="#000" stroke-width="1" stroke-miterlimit="10"/>
<text transform="translate(2337.5,1090.4) scale(0.99,1)" font-size="36.4" text-anchor="start" fill="#000" >C3</text>
<rect x="1980.5" y="1140.5" width="170" height="50" fill="#fff" stroke="#000" stroke-width="1" />
<text transform="translate(2065,1160.9) scale(1.0,1)" font-size="17.95" text-anchor="middle" fill="#000" >ConvBNSiLU</text>
<text transform="translate(2065,1181.7) scale(1.0,1)" font-size="17.95" text-anchor="middle" fill="#000" >k1, s1, p0, c256</text>
<rect x="2210.5" y="1140.5" width="170" height="50" fill="#fff" stroke="#000" stroke-width="1" />
<text transform="translate(2295,1160.9) scale(1.0,1)" font-size="17.95" text-anchor="middle" fill="#000" >ConvBNSiLU</text>
<text transform="translate(2295,1181.7) scale(1.0,1)" font-size="17.95" text-anchor="middle" fill="#000" >k1, s1, p0, c256</text>
<path d="M2065.5 1230.38L2062 1223.38L2065.5 1225.13L2069 1223.38Z" fill="#000" stroke="#000" stroke-width="1" stroke-miterlimit="10"/>
<path d="M2065.5 1190.5L2065.5 1225.13" fill="none" stroke="#000" stroke-width="1" stroke-miterlimit="10"/>
<rect x="1980.5" y="1231.5" width="170" height="40" fill="#ffe6cc" stroke="#d79b00" stroke-width="1" />
<text transform="translate(2065.2,1257.3) scale(1.0,1)" font-size="17.95" text-anchor="middle" fill="#000" >BottleNeck 2</text>
<text transform="translate(2170,1259.7) scale(0.965,1)" font-size="24.5" text-anchor="start" fill="#000" >x 3</text>
<path d="M2065.5 1310.38L2062 1303.38L2065.5 1305.13L2069 1303.38Z" fill="#000" stroke="#000" stroke-width="1" stroke-miterlimit="10"/>
<path d="M2065.5 1271.5L2065.5 1305.13" fill="none" stroke="#000" stroke-width="1" stroke-miterlimit="10"/>
<rect x="2003" y="1311.5" width="125" height="40" fill="#fff" stroke="#000" stroke-width="1" />
<text transform="translate(2065.2,1337.3) scale(1.0,1)" font-size="17.95" text-anchor="middle" fill="#000" >Concat</text>
<path d="M2129.12 1331.5L2136.12 1328L2134.37 1331.5L2136.12 1335Z" fill="#000" stroke="#000" stroke-width="1" stroke-miterlimit="10"/>
<path d="M2295.5 1190.5L2295.5 1331.5L2134.37 1331.5" fill="none" stroke="#000" stroke-width="1" stroke-miterlimit="10"/>
<path d="M2065.5 1385.38L2062 1378.38L2065.5 1380.13L2069 1378.38Z" fill="#000" stroke="#000" stroke-width="1" stroke-miterlimit="10"/>
<path d="M2065.5 1351.5L2065.5 1380.13" fill="none" stroke="#000" stroke-width="1" stroke-miterlimit="10"/>
<rect x="1980.5" y="1386.5" width="170" height="50" fill="#fff" stroke="#000" stroke-width="1" />
<text transform="translate(2065,1406.9) scale(1.0,1)" font-size="17.95" text-anchor="middle" fill="#000" >ConvBNSiLU</text>
<text transform="translate(2065,1427.7) scale(1.0,1)" font-size="17.95" text-anchor="middle" fill="#000" >k1, s1, p0, c512</text>
<path d="M2065.5 1609.38L2062 1602.38L2065.5 1604.13L2069 1602.38Z" fill="#000" stroke="#000" stroke-width="1" stroke-miterlimit="10"/>
<path d="M2065.5 1436.5L2065.5 1604.13" fill="none" stroke="#000" stroke-width="1" stroke-miterlimit="10"/>
<path d="M2499.38 1515.5L2492.38 1519L2494.13 1515.5L2492.38 1512Z" fill="#000" stroke="#000" stroke-width="1" stroke-miterlimit="10"/>
<path d="M2065.5 1515.5L2494.13 1515.5" fill="none" stroke="#000" stroke-width="1" stroke-miterlimit="10"/>
<text font-family='"Liberation Serif", "DejaVu Serif", serif' font-size="21.6" fill="#ff3333" stroke="#ff3333" stroke-width="0.4" xml:space="preserve"><tspan x="2333" y="1506.3">40 </tspan><tspan x="2358.95" y="1507.9" font-family='"DejaVu Sans", sans-serif' font-weight="200" stroke="none" font-size="21.8">× </tspan><tspan x="2381.4" y="1506.3">40 </tspan><tspan x="2407.35" y="1507.9" font-family='"DejaVu Sans", sans-serif' font-weight="200" stroke="none" font-size="21.8">× </tspan><tspan x="2429.8" y="1506.3">512 </tspan></text>
<rect x="1980.5" y="1610.5" width="170" height="50" fill="#f8cecc" stroke="#b85450" stroke-width="1" />
<text transform="translate(2065,1630.9) scale(1.0,1)" font-size="17.95" text-anchor="middle" fill="#000" >ConvBNSiLU</text>
<text transform="translate(2065,1651.7) scale(1.0,1)" font-size="17.95" text-anchor="middle" fill="#000" >k3, s2, p1, c512</text>
<path d="M2065.5 1739.38L2062 1732.38L2065.5 1734.13L2069 1732.38Z" fill="#000" stroke="#000" stroke-width="1" stroke-miterlimit="10"/>
<path d="M2065.5 1660.5L2065.5 1734.13" fill="none" stroke="#000" stroke-width="1" stroke-miterlimit="10"/>
<text font-family='"Liberation Serif", "DejaVu Serif", serif' font-size="21.6" fill="#ff3333" stroke="#ff3333" stroke-width="0.4" xml:space="preserve"><tspan x="2076.4" y="1691">20 </tspan><tspan x="2102.35" y="1692.6" font-family='"DejaVu Sans", sans-serif' font-weight="200" stroke="none" font-size="21.8">× </tspan><tspan x="2124.8" y="1691">20 </tspan><tspan x="2150.75" y="1692.6" font-family='"DejaVu Sans", sans-serif' font-weight="200" stroke="none" font-size="21.8">× </tspan><tspan x="2173.2" y="1691">512 </tspan></text>
<rect x="2003" y="1740.5" width="125" height="40" fill="#fff" stroke="#000" stroke-width="1" />
<text transform="translate(2065.2,1766.3) scale(1.0,1)" font-size="17.95" text-anchor="middle" fill="#000" >Concat</text>
<rect x="1950.5" y="1840.5" width="460" height="410" fill="none" stroke="#000" stroke-width="1" stroke-dasharray="3 3"/>
<path d="M2065.5 1929.38L2062 1922.38L2065.5 1924.13L2069 1922.38Z" fill="#000" stroke="#000" stroke-width="1" stroke-miterlimit="10"/>
<path d="M2065.5 1780.5L2065.5 1924.13" fill="none" stroke="#000" stroke-width="1" stroke-miterlimit="10"/>
<path d="M2295.5 1929.38L2292 1922.38L2295.5 1924.13L2299 1922.38Z" fill="#000" stroke="#000" stroke-width="1" stroke-miterlimit="10"/>
<path d="M2065.5 1890.5L2295.5 1890.5L2295.5 1924.13" fill="none" stroke="#000" stroke-width="1" stroke-miterlimit="10"/>
<text transform="translate(2337.5,1887.7) scale(0.99,1)" font-size="36.4" text-anchor="start" fill="#000" >C3</text>
<rect x="1980.5" y="1930.5" width="170" height="50" fill="#fff" stroke="#000" stroke-width="1" />
<text transform="translate(2065,1950.9) scale(1.0,1)" font-size="17.95" text-anchor="middle" fill="#000" >ConvBNSiLU</text>
<text transform="translate(2065,1971.7) scale(1.0,1)" font-size="17.95" text-anchor="middle" fill="#000" >k1, s1, p0, c512</text>
<rect x="2210.5" y="1930.5" width="170" height="50" fill="#fff" stroke="#000" stroke-width="1" />
<text transform="translate(2295,1950.9) scale(1.0,1)" font-size="17.95" text-anchor="middle" fill="#000" >ConvBNSiLU</text>
<text transform="translate(2295,1971.7) scale(1.0,1)" font-size="17.95" text-anchor="middle" fill="#000" >k1, s1, p0, c512</text>
<path d="M2065.5 2020.38L2062 2013.38L2065.5 2015.13L2069 2013.38Z" fill="#000" stroke="#000" stroke-width="1" stroke-miterlimit="10"/>
<path d="M2065.5 1980.5L2065.5 2015.13" fill="none" stroke="#000" stroke-width="1" stroke-miterlimit="10"/>
<rect x="1980.5" y="2021.5" width="170" height="40" fill="#ffe6cc" stroke="#d79b00" stroke-width="1" />
<text transform="translate(2065.2,2047.3) scale(1.0,1)" font-size="17.95" text-anchor="middle" fill="#000" >BottleNeck 2</text>
<text transform="translate(2170,2049.7) scale(0.965,1)" font-size="24.5" text-anchor="start" fill="#000" >x 3</text>
<path d="M2065.5 2100.38L2062 2093.38L2065.5 2095.13L2069 2093.38Z" fill="#000" stroke="#000" stroke-width="1" stroke-miterlimit="10"/>
<path d="M2065.5 2061.5L2065.5 2095.13" fill="none" stroke="#000" stroke-width="1" stroke-miterlimit="10"/>
<rect x="2003" y="2101.5" width="125" height="40" fill="#fff" stroke="#000" stroke-width="1" />
<text transform="translate(2065.2,2127.3) scale(1.0,1)" font-size="17.95" text-anchor="middle" fill="#000" >Concat</text>
<path d="M2129.12 2121.5L2136.12 2118L2134.37 2121.5L2136.12 2125Z" fill="#000" stroke="#000" stroke-width="1" stroke-miterlimit="10"/>
<path d="M2295.5 1980.5L2295.5 2121.5L2134.37 2121.5" fill="none" stroke="#000" stroke-width="1" stroke-miterlimit="10"/>
<path d="M2065.5 2175.38L2062 2168.38L2065.5 2170.13L2069 2168.38Z" fill="#000" stroke="#000" stroke-width="1" stroke-miterlimit="10"/>
<path d="M2065.5 2141.5L2065.5 2170.13" fill="none" stroke="#000" stroke-width="1" stroke-miterlimit="10"/>
<rect x="1980.5" y="2176.5" width="170" height="50" fill="#fff" stroke="#000" stroke-width="1" />
<text transform="translate(2065,2196.9) scale(1.0,1)" font-size="17.95" text-anchor="middle" fill="#000" >ConvBNSiLU</text>
<text transform="translate(2065,2217.7) scale(1.0,1)" font-size="17.95" text-anchor="middle" fill="#000" >k1, s1, p0, c1024</text>
<path d="M2499.38 2311.5L2492.38 2315L2494.13 2311.5L2492.38 2308Z" fill="#000" stroke="#000" stroke-width="1" stroke-miterlimit="10"/>
<path d="M2065.5 2226.5L2065.5 2311.5L2494.13 2311.5" fill="none" stroke="#000" stroke-width="1" stroke-miterlimit="10"/>
<text font-family='"Liberation Serif", "DejaVu Serif", serif' font-size="21.6" fill="#ff3333" stroke="#ff3333" stroke-width="0.4" xml:space="preserve"><tspan x="2333" y="2302">20 </tspan><tspan x="2358.95" y="2303.6" font-family='"DejaVu Sans", sans-serif' font-weight="200" stroke="none" font-size="21.8">× </tspan><tspan x="2381.4" y="2302">20 </tspan><tspan x="2407.35" y="2303.6" font-family='"DejaVu Sans", sans-serif' font-weight="200" stroke="none" font-size="21.8">× </tspan><tspan x="2429.8" y="2302">1024 </tspan></text>
<rect x="2500.5" y="745.5" width="130" height="50" fill="#d5e8d4" stroke="#82b366" stroke-width="1" />
<text transform="translate(2565,765.9) scale(1.0,1)" font-size="17.95" text-anchor="middle" fill="#000" >Conv2d</text>
<text transform="translate(2565,786.7) scale(1.0,1)" font-size="17.95" text-anchor="middle" fill="#000" >k1, s1, p0</text>
<path d="M2709.38 770.5L2702.38 774L2704.13 770.5L2702.38 767Z" fill="#000" stroke="#000" stroke-width="1" stroke-miterlimit="10"/>
<path d="M2630.5 770.5L2704.13 770.5" fill="none" stroke="#000" stroke-width="1" stroke-miterlimit="10"/>
<text font-family='"Liberation Serif", "DejaVu Serif", serif' font-size="21.6" fill="#000" stroke="#000" stroke-width="0.35" xml:space="preserve"><tspan x="2484.6" y="822.9" font-style="italic">c </tspan><tspan x="2498.17" y="824.8" font-family='"DejaVu Sans", sans-serif' font-weight="200" stroke="none" font-size="23.2">= </tspan><tspan x="2522.6" y="822.9">(</tspan><tspan x="2530.6" y="822.9">5 </tspan><tspan x="2544.97" y="824.8" font-family='"DejaVu Sans", sans-serif' font-weight="200" stroke="none" font-size="23.2">+ </tspan><tspan x="2567.6" y="822.9" font-style="italic">n</tspan><tspan x="2580.1" y="827.4" font-size="15" font-style="italic">cls</tspan><tspan x="2601.1" y="822.9">) </tspan><tspan x="2613.55" y="824.5" font-family='"DejaVu Sans", sans-serif' font-weight="200" stroke="none" font-size="21.8">× </tspan><tspan x="2636.1" y="822.9">3</tspan></text>
<rect x="2500.5" y="1490.5" width="130" height="50" fill="#d5e8d4" stroke="#82b366" stroke-width="1" />
<text transform="translate(2565,1510.9) scale(1.0,1)" font-size="17.95" text-anchor="middle" fill="#000" >Conv2d</text>
<text transform="translate(2565,1531.7) scale(1.0,1)" font-size="17.95" text-anchor="middle" fill="#000" >k1, s1, p0</text>
<path d="M2709.38 1516.5L2702.38 1520L2704.13 1516.5L2702.38 1513Z" fill="#000" stroke="#000" stroke-width="1" stroke-miterlimit="10"/>
<path d="M2630.5 1516.5L2704.13 1516.5" fill="none" stroke="#000" stroke-width="1" stroke-miterlimit="10"/>
<text font-family='"Liberation Serif", "DejaVu Serif", serif' font-size="21.6" fill="#000" stroke="#000" stroke-width="0.35" xml:space="preserve"><tspan x="2484.6" y="1566.3" font-style="italic">c </tspan><tspan x="2498.17" y="1568.2" font-family='"DejaVu Sans", sans-serif' font-weight="200" stroke="none" font-size="23.2">= </tspan><tspan x="2522.6" y="1566.3">(</tspan><tspan x="2530.6" y="1566.3">5 </tspan><tspan x="2544.97" y="1568.2" font-family='"DejaVu Sans", sans-serif' font-weight="200" stroke="none" font-size="23.2">+ </tspan><tspan x="2567.6" y="1566.3" font-style="italic">n</tspan><tspan x="2580.1" y="1570.8" font-size="15" font-style="italic">cls</tspan><tspan x="2601.1" y="1566.3">) </tspan><tspan x="2613.55" y="1567.9" font-family='"DejaVu Sans", sans-serif' font-weight="200" stroke="none" font-size="21.8">× </tspan><tspan x="2636.1" y="1566.3">3</tspan></text>
<rect x="2500.5" y="2286.5" width="130" height="50" fill="#d5e8d4" stroke="#82b366" stroke-width="1" />
<text transform="translate(2565,2306.9) scale(1.0,1)" font-size="17.95" text-anchor="middle" fill="#000" >Conv2d</text>
<text transform="translate(2565,2327.7) scale(1.0,1)" font-size="17.95" text-anchor="middle" fill="#000" >k1, s1, p0</text>
<path d="M2709.38 2311.5L2702.38 2315L2704.13 2311.5L2702.38 2308Z" fill="#000" stroke="#000" stroke-width="1" stroke-miterlimit="10"/>
<path d="M2630.5 2311.5L2704.13 2311.5" fill="none" stroke="#000" stroke-width="1" stroke-miterlimit="10"/>
<text font-family='"Liberation Serif", "DejaVu Serif", serif' font-size="21.6" fill="#000" stroke="#000" stroke-width="0.35" xml:space="preserve"><tspan x="2484.6" y="2364.8" font-style="italic">c </tspan><tspan x="2498.17" y="2366.7" font-family='"DejaVu Sans", sans-serif' font-weight="200" stroke="none" font-size="23.2">= </tspan><tspan x="2522.6" y="2364.8">(</tspan><tspan x="2530.6" y="2364.8">5 </tspan><tspan x="2544.97" y="2366.7" font-family='"DejaVu Sans", sans-serif' font-weight="200" stroke="none" font-size="23.2">+ </tspan><tspan x="2567.6" y="2364.8" font-style="italic">n</tspan><tspan x="2580.1" y="2369.3" font-size="15" font-style="italic">cls</tspan><tspan x="2601.1" y="2364.8">) </tspan><tspan x="2613.55" y="2366.4" font-family='"DejaVu Sans", sans-serif' font-weight="200" stroke="none" font-size="21.8">× </tspan><tspan x="2636.1" y="2364.8">3</tspan></text>
<rect x="1310.5" y="20.5" width="290" height="380" fill="none" stroke="#ffb570" stroke-width="2"/>
<text transform="translate(1322.6,54) scale(0.99,1)" font-size="24.2" text-anchor="start" fill="#000" >BottleNeck 1</text>
<path d="M1475.5 119.38L1472 112.38L1475.5 114.13L1479 112.38Z" fill="#000" stroke="#000" stroke-width="1" stroke-miterlimit="10"/>
<path d="M1475.5 50.5L1475.5 114.13" fill="none" stroke="#000" stroke-width="1" stroke-miterlimit="10"/>
<text font-family='"Liberation Serif", "DejaVu Serif", serif' font-size="23" fill="#000" font-style="italic" font-weight="bold" xml:space="preserve"><tspan x="1496" y="77">h </tspan><tspan font-style="normal" x="1510.53" y="78.8" font-family='"DejaVu Sans", sans-serif' font-weight="200" stroke="none" font-size="24.5">× </tspan><tspan x="1534.5" y="77">w </tspan><tspan font-style="normal" x="1553.33" y="78.8" font-family='"DejaVu Sans", sans-serif' font-weight="200" stroke="none" font-size="24.5">× </tspan><tspan x="1577" y="77">c</tspan></text>
<rect x="1390.5" y="120.5" width="170" height="50" fill="#fff" stroke="#000" stroke-width="1" />
<text transform="translate(1475,140.9) scale(1.0,1)" font-size="17.95" text-anchor="middle" fill="#000" >ConvBNSiLU</text>
<text transform="translate(1475,161.7) scale(1.0,1)" font-size="17.95" text-anchor="middle" fill="#000" >k1, s1, p0, c</text>
<path d="M1475.5 209.38L1472 202.38L1475.5 204.13L1479 202.38Z" fill="#000" stroke="#000" stroke-width="1" stroke-miterlimit="10"/>
<path d="M1475.5 170.5L1475.5 204.13" fill="none" stroke="#000" stroke-width="1" stroke-miterlimit="10"/>
<rect x="1390.5" y="210.5" width="170" height="50" fill="#fff" stroke="#000" stroke-width="1" />
<text transform="translate(1475,230.9) scale(1.0,1)" font-size="17.95" text-anchor="middle" fill="#000" >ConvBNSiLU</text>
<text transform="translate(1475,251.7) scale(1.0,1)" font-size="17.95" text-anchor="middle" fill="#000" >k3, s1, p1, c</text>
<path d="M1475.5 293.88L1472 286.88L1475.5 288.63L1479 286.88Z" fill="#000" stroke="#000" stroke-width="1" stroke-miterlimit="10"/>
<path d="M1475.5 260.5L1475.5 288.63" fill="none" stroke="#000" stroke-width="1" stroke-miterlimit="10"/>
<circle cx="1475.5" cy="315.5" r="20" fill="#fff" stroke="#000" stroke-width="2"/>
<text x="1475.5" y="332.7" font-size="51.6" font-family='"Liberation Serif", "DejaVu Serif", serif' text-anchor="middle" fill="#000">+</text>
<path d="M1453.38 315.5L1446.38 319L1448.13 315.5L1446.38 312Z" fill="#000" stroke="#000" stroke-width="1" stroke-miterlimit="10"/>
<path d="M1475.5 90.5L1340.5 90.5L1340.5 315.5L1448.13 315.5" fill="none" stroke="#000" stroke-width="1" stroke-miterlimit="10"/>
<path d="M1475.5 389.38L1472 382.38L1475.5 384.13L1479 382.38Z" fill="#000" stroke="#000" stroke-width="1" stroke-miterlimit="10"/>
<path d="M1475.5 336L1475.5 384.13" fill="none" stroke="#000" stroke-width="1" stroke-miterlimit="10"/>
<rect x="1750.5" y="20.5" width="300" height="380" fill="none" stroke="#ffb570" stroke-width="2"/>
<text transform="translate(1762.6,54) scale(0.99,1)" font-size="24.2" text-anchor="start" fill="#000" >BottleNeck 2</text>
<path d="M1910.5 119.38L1907 112.38L1910.5 114.13L1914 112.38Z" fill="#000" stroke="#000" stroke-width="1" stroke-miterlimit="10"/>
<path d="M1910.5 50.5L1910.5 114.13" fill="none" stroke="#000" stroke-width="1" stroke-miterlimit="10"/>
<text font-family='"Liberation Serif", "DejaVu Serif", serif' font-size="23" fill="#000" font-style="italic" font-weight="bold" xml:space="preserve"><tspan x="1930.8" y="77">h </tspan><tspan font-style="normal" x="1945.33" y="78.8" font-family='"DejaVu Sans", sans-serif' font-weight="200" stroke="none" font-size="24.5">× </tspan><tspan x="1969.3" y="77">w </tspan><tspan font-style="normal" x="1988.13" y="78.8" font-family='"DejaVu Sans", sans-serif' font-weight="200" stroke="none" font-size="24.5">× </tspan><tspan x="2011.8" y="77">c</tspan></text>
<rect x="1825.5" y="120.5" width="170" height="50" fill="#fff" stroke="#000" stroke-width="1" />
<text transform="translate(1910,140.9) scale(1.0,1)" font-size="17.95" text-anchor="middle" fill="#000" >ConvBNSiLU</text>
<text transform="translate(1910,161.7) scale(1.0,1)" font-size="17.95" text-anchor="middle" fill="#000" >k1, s1, p0, c</text>
<path d="M1910.5 209.38L1907 202.38L1910.5 204.13L1914 202.38Z" fill="#000" stroke="#000" stroke-width="1" stroke-miterlimit="10"/>
<path d="M1910.5 170.5L1910.5 204.13" fill="none" stroke="#000" stroke-width="1" stroke-miterlimit="10"/>
<rect x="1825.5" y="210.5" width="170" height="50" fill="#fff" stroke="#000" stroke-width="1" />
<text transform="translate(1910,230.9) scale(1.0,1)" font-size="17.95" text-anchor="middle" fill="#000" >ConvBNSiLU</text>
<text transform="translate(1910,251.7) scale(1.0,1)" font-size="17.95" text-anchor="middle" fill="#000" >k3, s1, p1, c</text>
<path d="M1910.5 349.38L1907 342.38L1910.5 344.13L1914 342.38Z" fill="#000" stroke="#000" stroke-width="1" stroke-miterlimit="10"/>
<path d="M1910.5 260.5L1910.5 344.13" fill="none" stroke="#000" stroke-width="1" stroke-miterlimit="10"/>
<text y="2473.8" fill="#a8a8a8" font-family='"Liberation Sans", "Noto Sans CJK SC", sans-serif' xml:space="preserve"><tspan x="2493.6" font-size="19.3" textLength="69.8" lengthAdjust="spacingAndGlyphs">CSDN @</tspan><tspan x="2566" font-size="19.7" textLength="138.2" lengthAdjust="spacingAndGlyphs">太阳花的小绿豆</tspan></text>
</svg></body></html>
